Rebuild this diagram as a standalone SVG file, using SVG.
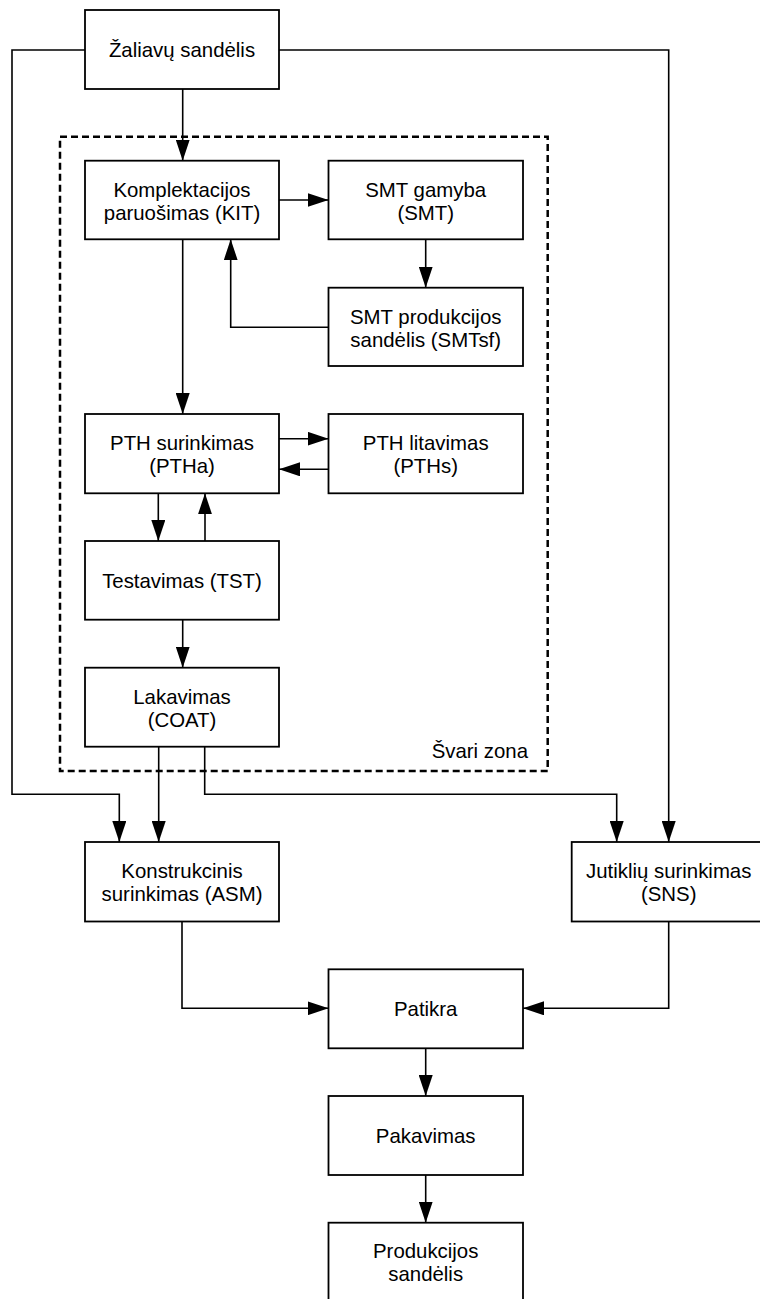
<svg xmlns="http://www.w3.org/2000/svg" width="760" height="1299" viewBox="0 0 760 1299">
<style>
.box{fill:#fff;stroke:#000;stroke-width:1.8}
.t{font-family:"Liberation Sans",Arial,sans-serif;font-size:20.4px;fill:#000;text-anchor:middle}
.c{fill:none;stroke:#000;stroke-width:1.6}
.zone{fill:none;stroke:#000;stroke-width:2.5;stroke-dasharray:7 4}
</style>
<defs>
<marker id="ah" markerUnits="userSpaceOnUse" markerWidth="21" markerHeight="14" refX="21" refY="7" orient="auto">
<path d="M0,0 L21,7 L0,14 z" fill="#000"/>
</marker>
</defs>
<rect width="760" height="1299" fill="#fff"/>
<g id="zone">
<rect class="zone" x="60" y="136.7" width="487.7" height="634.3"/>
<text class="t" x="528" y="758" style="text-anchor:end">Švari zona</text>
</g>
<g id="connectors">
<path class="c" marker-end="url(#ah)" d="M182.7,89 V160.7"/>
<path class="c" marker-end="url(#ah)" d="M85,50 H12 V794.3 H119.3 V842"/>
<path class="c" marker-end="url(#ah)" d="M279,50 H668.7 V842"/>
<path class="c" marker-end="url(#ah)" d="M279,200 H328.5"/>
<path class="c" marker-end="url(#ah)" d="M425.7,239.3 V287.7"/>
<path class="c" marker-end="url(#ah)" d="M328.5,327.3 H230.7 V239.3"/>
<path class="c" marker-end="url(#ah)" d="M182.7,239.3 V414"/>
<path class="c" marker-end="url(#ah)" d="M279,438.7 H328.5"/>
<path class="c" marker-end="url(#ah)" d="M328.5,469.3 H279"/>
<path class="c" marker-end="url(#ah)" d="M158.3,493.3 V541"/>
<path class="c" marker-end="url(#ah)" d="M205,541 V493.3"/>
<path class="c" marker-end="url(#ah)" d="M182.7,619.7 V667.7"/>
<path class="c" marker-end="url(#ah)" d="M158.7,746.7 V842"/>
<path class="c" marker-end="url(#ah)" d="M204.7,746.7 V794.3 H616.7 V842"/>
<path class="c" marker-end="url(#ah)" d="M182,921.5 V1008.3 H328.5"/>
<path class="c" marker-end="url(#ah)" d="M668.7,921.5 V1008.3 H523"/>
<path class="c" marker-end="url(#ah)" d="M425.7,1048.3 V1096"/>
<path class="c" marker-end="url(#ah)" d="M425.7,1175 V1222.7"/>
</g>
<g id="zaliavu">
<rect class="box" x="85" y="10" width="194" height="79"/>
<text class="t" x="182" y="57">Žaliavų sandėlis</text>
</g>
<g id="kit">
<rect class="box" x="85" y="160.7" width="194" height="78.6"/>
<text class="t" x="182" y="196.5">Komplektacijos</text>
<text class="t" x="182" y="219.5">paruošimas (KIT)</text>
</g>
<g id="smt">
<rect class="box" x="328.5" y="160.7" width="194.5" height="78.6"/>
<text class="t" x="425.7" y="196.5">SMT gamyba</text>
<text class="t" x="425.7" y="219.5">(SMT)</text>
</g>
<g id="smtsf">
<rect class="box" x="328.5" y="287.7" width="194.5" height="78.3"/>
<text class="t" x="425.7" y="323.5">SMT produkcijos</text>
<text class="t" x="425.7" y="346.5">sandėlis (SMTsf)</text>
</g>
<g id="ptha">
<rect class="box" x="85" y="414" width="194" height="79.3"/>
<text class="t" x="182" y="450.2">PTH surinkimas</text>
<text class="t" x="182" y="473.2">(PTHa)</text>
</g>
<g id="pths">
<rect class="box" x="328.5" y="414" width="194.5" height="79.3"/>
<text class="t" x="425.7" y="450.2">PTH litavimas</text>
<text class="t" x="425.7" y="473.2">(PTHs)</text>
</g>
<g id="tst">
<rect class="box" x="85" y="541" width="194" height="78.7"/>
<text class="t" x="182" y="588">Testavimas (TST)</text>
</g>
<g id="coat">
<rect class="box" x="85" y="667.7" width="194" height="79"/>
<text class="t" x="182" y="703.7">Lakavimas</text>
<text class="t" x="182" y="726.7">(COAT)</text>
</g>
<g id="asm">
<rect class="box" x="85" y="842" width="194" height="79.5"/>
<text class="t" x="182" y="878.3">Konstrukcinis</text>
<text class="t" x="182" y="901.3">surinkimas (ASM)</text>
</g>
<g id="sns">
<rect class="box" x="571.7" y="842" width="194" height="79.5"/>
<text class="t" x="668.7" y="878.3">Jutiklių surinkimas</text>
<text class="t" x="668.7" y="901.3">(SNS)</text>
</g>
<g id="patikra">
<rect class="box" x="328.5" y="969.3" width="194.5" height="79"/>
<text class="t" x="425.7" y="1016.3">Patikra</text>
</g>
<g id="pakavimas">
<rect class="box" x="328.5" y="1096" width="194.5" height="79"/>
<text class="t" x="425.7" y="1143">Pakavimas</text>
</g>
<g id="produkcijos">
<rect class="box" x="328.5" y="1222.7" width="194.5" height="79"/>
<text class="t" x="425.7" y="1257.5">Produkcijos</text>
<text class="t" x="425.7" y="1280.5">sandėlis</text>
</g>
</svg>
